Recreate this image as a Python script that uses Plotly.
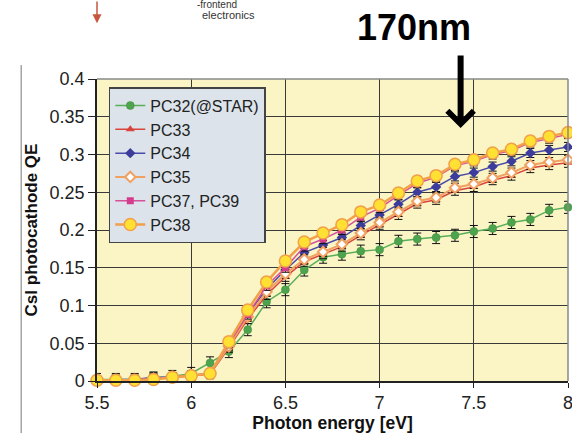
import plotly.graph_objects as go

energy = [5.5, 5.6, 5.7, 5.8, 5.9, 6.0, 6.1, 6.2, 6.3, 6.4, 6.5, 6.6, 6.7,
          6.8, 6.9, 7.0, 7.1, 7.2, 7.3, 7.4, 7.5, 7.6, 7.7, 7.8, 7.9, 8.0]

pc32 = [0.002, 0.002, 0.002, 0.004, 0.006, 0.010, 0.024, 0.039, 0.068, 0.105, 0.121, 0.147, 0.164,
        0.168, 0.172, 0.174, 0.185, 0.188, 0.190, 0.193, 0.198, 0.202, 0.210, 0.214, 0.226, 0.230]
pc33 = [0.001, 0.001, 0.001, 0.003, 0.005, 0.007, 0.009, 0.044, 0.082, 0.114, 0.138, 0.158, 0.168,
        0.178, 0.193, 0.207, 0.220, 0.235, 0.240, 0.252, 0.257, 0.266, 0.272, 0.282, 0.286, 0.289]
pc34 = [0.001, 0.002, 0.002, 0.005, 0.005, 0.007, 0.010, 0.048, 0.088, 0.122, 0.147, 0.170, 0.180,
        0.190, 0.206, 0.220, 0.234, 0.250, 0.257, 0.271, 0.276, 0.284, 0.291, 0.302, 0.306, 0.310]
pc35 = [0.001, 0.001, 0.001, 0.003, 0.005, 0.007, 0.010, 0.046, 0.085, 0.118, 0.142, 0.161, 0.171,
        0.181, 0.196, 0.210, 0.224, 0.238, 0.243, 0.256, 0.261, 0.269, 0.276, 0.286, 0.290, 0.293]
pc37 = [0.001, 0.001, 0.001, 0.003, 0.005, 0.007, 0.010, 0.050, 0.088, 0.126, 0.150, 0.178, 0.188,
        0.200, 0.217, 0.229, 0.246, 0.262, 0.270, 0.285, 0.291, 0.300, 0.305, 0.316, 0.321, 0.327]
pc38 = [0.001, 0.001, 0.001, 0.002, 0.005, 0.007, 0.010, 0.052, 0.094, 0.131, 0.159, 0.184, 0.196,
        0.207, 0.224, 0.233, 0.249, 0.265, 0.272, 0.287, 0.293, 0.302, 0.307, 0.318, 0.324, 0.329]

names = ["PC32(@STAR)", "PC33", "PC34", "PC35", "PC37, PC39", "PC38"]
errors = [0.008, 0.006, 0.006, 0.006, 0.006, 0.006]

x_ticks = [5.5, 6, 6.5, 7, 7.5, 8]
y_ticks = [0, 0.05, 0.1, 0.15, 0.2, 0.25, 0.3, 0.35, 0.4]

styles = [
    dict(line=dict(color="#5aae5a", width=1.5),
         marker=dict(symbol="circle", size=8, color="#4ea34e", line=dict(color="#3f8f3f", width=0.5))),
    dict(line=dict(color="#d9453c", width=1.5),
         marker=dict(symbol="triangle-up", size=8, color="#d9453c")),
    dict(line=dict(color="#4a4aa8", width=1.5),
         marker=dict(symbol="diamond", size=8, color="#3c3c9c")),
    dict(line=dict(color="#f0a060", width=2),
         marker=dict(symbol="diamond", size=8, color="white", line=dict(color="#f0a060", width=2))),
    dict(line=dict(color="#d6509a", width=1.5),
         marker=dict(symbol="square", size=7, color="#d63c8c")),
    dict(line=dict(color="#f2a04a", width=2.5),
         marker=dict(symbol="circle", size=12, color="#ffe033", line=dict(color="#f2a04a", width=1.5))),
]

fig = go.Figure()
for name, ys, err, st in zip(names, [pc32, pc33, pc34, pc35, pc37, pc38], errors, styles):
    fig.add_trace(go.Scatter(
        x=energy, y=ys, name=name, mode="lines+markers", cliponaxis=False,
        error_y=dict(type="constant", value=err, color="#111", thickness=1, width=4),
        **st))

font = "Liberation Sans, Arial, sans-serif"
fig.update_layout(
    width=572, height=433,
    margin=dict(l=97, r=4, t=79, b=52, autoexpand=False),
    paper_bgcolor="white", plot_bgcolor="#fbf5c6",
    font=dict(family=font, color="#222", size=17),
    showlegend=True,
    legend=dict(x=0.025, y=0.973, xanchor="left", yanchor="top",
                bgcolor="#dce3ea", bordercolor="#444", borderwidth=1.5,
                font=dict(size=16, family=font, color="#222"),
                tracegroupgap=0, itemwidth=30),
    xaxis=dict(range=[5.5, 8], tickvals=x_ticks, ticktext=[str(v) for v in x_ticks],
               automargin=False,
               showgrid=True, gridcolor="#3a3a3a", gridwidth=1.2,
               showline=True, linecolor="#222", linewidth=1.5, mirror=False,
               ticks="outside", ticklen=5, tickcolor="#222", ticklabeloverflow="allow",
               tickfont=dict(size=18, family=font, color="#222"), zeroline=False,
               title=dict(text="<b>Photon energy [eV]</b>", standoff=6,
                          font=dict(size=17.5, family=font, color="#111"))),
    yaxis=dict(range=[0, 0.4], tickvals=y_ticks, ticktext=[f"{v:g}" for v in y_ticks],
               automargin=False,
               showgrid=True, gridcolor="#3a3a3a", gridwidth=1.2,
               showline=True, linecolor="#222", linewidth=1.5, mirror=False,
               ticks="outside", ticklen=7, tickcolor="#222", ticklabeloverflow="allow",
               tickfont=dict(size=18, family=font, color="#222"), zeroline=False,
               title=dict(text="<b>CsI photocathode QE</b>", standoff=8,
                          font=dict(size=17, family=font, color="#111"))),
)

# plot frame top/right
fig.add_shape(type="line", xref="paper", yref="paper", x0=0, x1=1, y0=1, y1=1,
              line=dict(color="#888", width=1.5))
fig.add_shape(type="line", xref="paper", yref="paper", x0=1, x1=1, y0=0, y1=1,
              line=dict(color="#888", width=1.5))
# slide decoration: left vertical line
fig.add_shape(type="line", xref="paper", yref="paper", x0=-0.161, x1=-0.161, y0=1.046, y1=-0.2,
              line=dict(color="#777", width=1))

# 170nm label and arrow
fig.add_annotation(text="<b>170nm</b>", xref="paper", yref="paper", x=0.673, y=1.172,
                   xanchor="center", yanchor="middle",
                   showarrow=False, font=dict(size=36, family=font, color="black"))
fig.add_annotation(x=7.43, y=0.335, xref="x", yref="y", ax=0, ay=-74, axref="pixel", ayref="pixel",
                   showarrow=True, arrowhead=4, arrowsize=0.85, arrowwidth=6, arrowcolor="black", text="")

# slide remnants at top
fig.add_annotation(text="-frontend", xref="paper", yref="paper", x=0.208, y=1.246,
                   xanchor="left", yanchor="middle",
                   showarrow=False, font=dict(size=10, family=font, color="#333"))
fig.add_annotation(text="electronics", xref="paper", yref="paper", x=0.218, y=1.212,
                   xanchor="left", yanchor="middle",
                   showarrow=False, font=dict(size=11, family=font, color="#333"))
fig.add_annotation(x=0.0, y=1.185, xref="paper", yref="paper", ax=0, ay=-26, axref="pixel", ayref="pixel",
                   showarrow=True, arrowhead=2, arrowsize=1.2, arrowwidth=1.5, arrowcolor="#c8553d", text="")

fig.write_html("out.html")
